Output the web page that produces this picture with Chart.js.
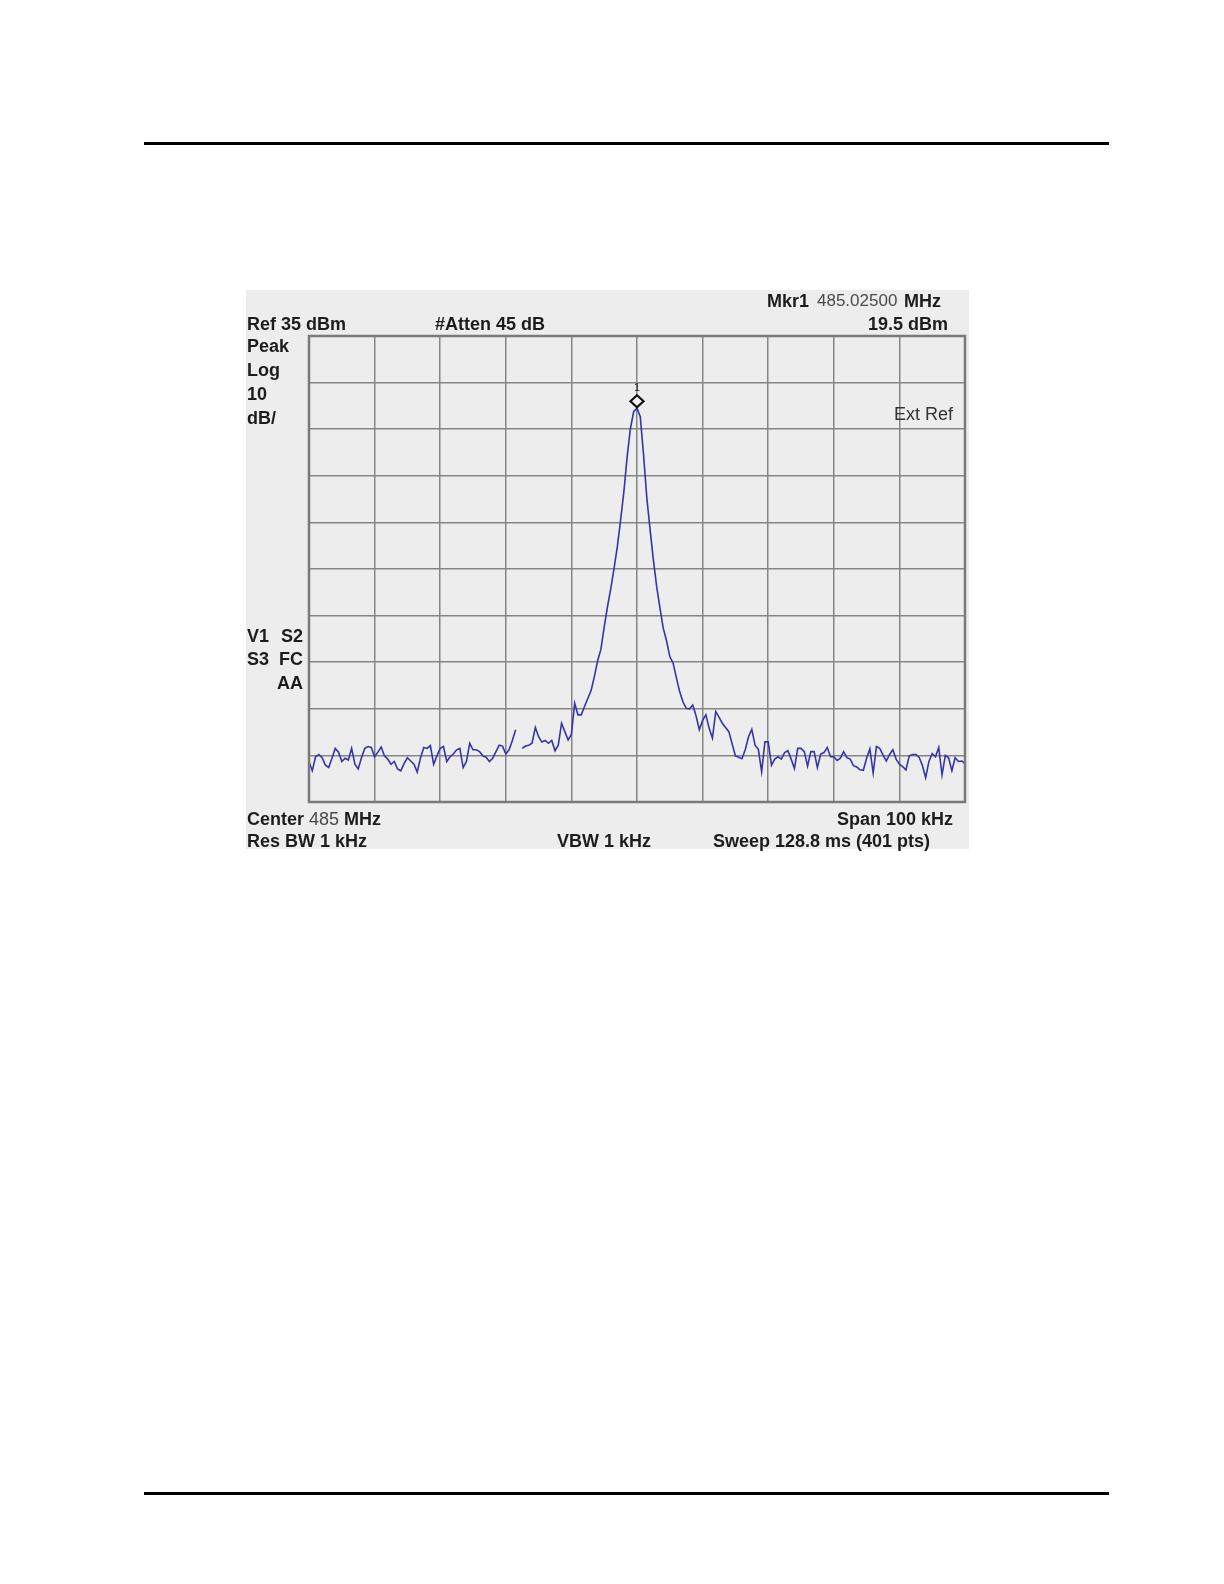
<!DOCTYPE html>
<html>
<head>
<meta charset="utf-8">
<title>Spectrum Analyzer Trace</title>
<script src="https://cdn.jsdelivr.net/npm/chart.js@4"></script>
<style>
    body { margin: 0; background: #fff; width: 1224px; height: 1584px; position: relative; overflow: hidden; }
    .rule { position: absolute; left: 144px; width: 965px; height: 3px; background: #000; }
    #panel { position: absolute; left: 246px; top: 290px; width: 723px; height: 559px; background: #ededed; }
    #panel canvas { position: absolute; left: 0; top: 0; }
    .lbl { position: absolute; font-family: "Liberation Sans", Arial, sans-serif; font-size: 18px; font-weight: bold;
           color: #1c1c1c; line-height: 18px; white-space: pre; }
    .lbl .val { font-weight: normal; color: #4a4a4a; }
    .thin { font-weight: normal; color: #333; }
</style>
</head>
<body>
<div class="rule" style="top:142px"></div>
<div class="rule" style="top:1492px"></div>

<div id="panel"><canvas id="spectrumChart" width="723" height="559"></canvas></div>

<!-- annotation text (page coordinates) -->
<div class="lbl" style="left:767px; top:292px">Mkr1</div>
<div class="lbl" style="left:817px; top:292px; font-size:17px"><span class="val">485.02500</span></div>
<div class="lbl" style="left:904px; top:292px">MHz</div>
<div class="lbl" style="left:247px; top:315px">Ref 35 dBm</div>
<div class="lbl" style="left:435px; top:315px">#Atten 45 dB</div>
<div class="lbl" style="right:276px; top:315px">19.5 dBm</div>
<div class="lbl" style="left:247px; top:337px">Peak</div>
<div class="lbl" style="left:247px; top:361px">Log</div>
<div class="lbl" style="left:247px; top:385px">10</div>
<div class="lbl" style="left:247px; top:409px">dB/</div>
<div class="lbl thin" style="right:271px; top:405px">Ext Ref</div>
<div class="lbl" style="left:247px; top:627px">V1</div>
<div class="lbl" style="right:921px; top:627px">S2</div>
<div class="lbl" style="left:247px; top:650px">S3</div>
<div class="lbl" style="right:921px; top:650px">FC</div>
<div class="lbl" style="right:921px; top:674px">AA</div>
<div class="lbl" style="left:247px; top:810px">Center <span class="val">485</span> MHz</div>
<div class="lbl" style="right:271px; top:810px">Span 100 kHz</div>
<div class="lbl" style="left:247px; top:832px">Res BW 1 kHz</div>
<div class="lbl" style="left:557px; top:832px">VBW 1 kHz</div>
<div class="lbl" style="left:713px; top:832px">Sweep 128.8 ms (401 pts)</div>

<script>
// sweep: offset from centre in kHz, one reading every 0.5 kHz
const spanStartKHz = -50;
const spanStopKHz = 50;
const stepKHz = 0.5;

// trace level in dBm (null = break in the trace)
const levelLeftNoise = [
    -56.3, -58.3, -55.3, -54.8, -55.5, -57.1, -57.6, -55.6, -53.5, -54.3,
    -56.3, -55.6, -56.0, -53.5, -56.9, -57.9, -55.5, -53.5, -53.1, -53.3,
    -55.3, -54.3, -53.2, -55.1, -55.8, -56.9, -56.3, -57.9, -58.3, -56.7,
    -55.5, -56.2, -56.9, -58.6, -55.5, -53.3, -53.5, -52.9, -56.9, -55.1,
    -53.5, -53.1, -56.3, -55.3, -54.7, -53.8, -53.5, -57.6, -56.3, -52.4,
    -53.8, -53.8, -54.2, -55.1, -55.4, -56.3, -55.6, -54.2, -52.8, -53.0,
    -54.7, -53.8, -51.8, -49.5, null, -53.5, -53.0, -52.8, -52.4, -49.0,
    -51.0, -52.1, -51.8, -52.4, -51.8, -54.0, -52.8, -48.1, -49.9, -51.7
];
const levelPeak = [
    -50.5, -43.8, -46.3, -46.3, -44.5, -42.8, -41.1, -38.1, -34.7, -32.2,
    -27.4, -23.1, -19.2, -14.9, -10.2, -4.5, 1.6, 9.1, 15.2, 18.8,
    19.5,
    17.7, 9.5, 0.2, -6.6, -13.1, -18.8, -23.4, -27.7, -30.4, -33.8,
    -35.2, -38.3, -41.3, -43.5, -44.9, -45.0, -44.2, -46.5, -49.5, -47.5
];
const levelRightNoise = [
    -46.3, -49.2, -51.3, -45.6, -46.8, -48.1, -49.0, -49.9, -52.5, -55.1,
    -55.4, -55.7, -53.8, -51.0, -49.4, -52.8, -53.7, -58.5, -52.1, -52.1,
    -57.1, -55.8, -55.3, -55.8, -54.4, -54.0, -55.8, -57.8, -53.5, -53.5,
    -54.2, -57.3, -54.2, -54.2, -57.6, -54.7, -54.4, -53.3, -55.3,
    -55.3, -56.1, -55.6, -54.2, -55.5, -55.8, -57.2, -57.5, -58.1, -58.2,
    -55.6, -53.6, -58.8, -53.1, -53.5, -54.9, -56.2, -54.8, -53.8, -55.8,
    -56.9, -57.4, -58.1, -55.1, -54.8, -54.8, -55.4, -57.1, -59.8, -56.3,
    -54.6, -55.3, -53.3, -59.2, -55.0, -55.5, -58.3, -55.5, -56.3, -56.2,
    -56.7
];
const traceLevels = [...levelLeftNoise, ...levelPeak, ...levelRightNoise];

// marker 1
const markerFreqKHz = [0];
const markerLevelDbm = [19.5];

// screen: reference level at top, 10 dB/div, 10 divisions
const refLevelDbm = 35;
const dbPerDiv = 10;

document.addEventListener('DOMContentLoaded', () => {
    const tracePoints = traceLevels.map((v, i) => ({ x: spanStartKHz + i * stepKHz, y: v }));
    const markerPoints = markerFreqKHz.map((f, i) => ({ x: f, y: markerLevelDbm[i] }));

    // frame round the graticule + marker diamond with its number
    const screenDecor = {
        id: 'screenDecor',
        afterDraw(chart) {
            const { ctx, chartArea, scales } = chart;
            ctx.save();
            ctx.strokeStyle = '#7a7a7a';
            ctx.lineWidth = 2.5;
            ctx.strokeRect(chartArea.left, chartArea.top, chartArea.right - chartArea.left, chartArea.bottom - chartArea.top);

            const mx = scales.x.getPixelForValue(markerPoints[0].x);
            const my = scales.y.getPixelForValue(markerPoints[0].y) - 7;
            ctx.beginPath();
            ctx.moveTo(mx, my - 6);
            ctx.lineTo(mx + 6.5, my);
            ctx.lineTo(mx, my + 6);
            ctx.lineTo(mx - 6.5, my);
            ctx.closePath();
            ctx.fillStyle = '#f2f2f2';
            ctx.fill();
            ctx.strokeStyle = '#111';
            ctx.lineWidth = 2.2;
            ctx.stroke();

            ctx.fillStyle = '#222';
            ctx.font = '11px "Liberation Sans", Arial, sans-serif';
            ctx.textAlign = 'center';
            ctx.textBaseline = 'bottom';
            ctx.fillText('1', mx, my - 8);
            ctx.restore();
        }
    };

    const ctx = document.getElementById('spectrumChart').getContext('2d');
    new Chart(ctx, {
        type: 'line',
        data: {
            datasets: [{
                label: 'Trace 1',
                data: tracePoints,
                borderColor: '#3535a6',
                borderWidth: 1.6,
                pointRadius: 0,
                tension: 0,
                spanGaps: false,
                fill: false
            }]
        },
        options: {
            responsive: false,
            animation: false,
            devicePixelRatio: 1,
            layout: {
                padding: { left: 63, top: 46, right: 4, bottom: 47 }
            },
            scales: {
                x: {
                    type: 'linear',
                    min: spanStartKHz,
                    max: spanStopKHz,
                    ticks: { display: false, stepSize: 10 },
                    grid: { color: '#858585', lineWidth: 1.5, drawTicks: false },
                    border: { display: false },
                    afterFit: (scale) => { scale.height = 0; }
                },
                y: {
                    min: refLevelDbm - 10 * dbPerDiv,
                    max: refLevelDbm,
                    ticks: { display: false, stepSize: dbPerDiv },
                    grid: { color: '#858585', lineWidth: 1.5, drawTicks: false },
                    border: { display: false },
                    afterFit: (scale) => { scale.width = 0; }
                }
            },
            plugins: {
                legend: { display: false },
                tooltip: { enabled: false }
            }
        },
        plugins: [screenDecor]
    });
});
</script>
</body>
</html>
